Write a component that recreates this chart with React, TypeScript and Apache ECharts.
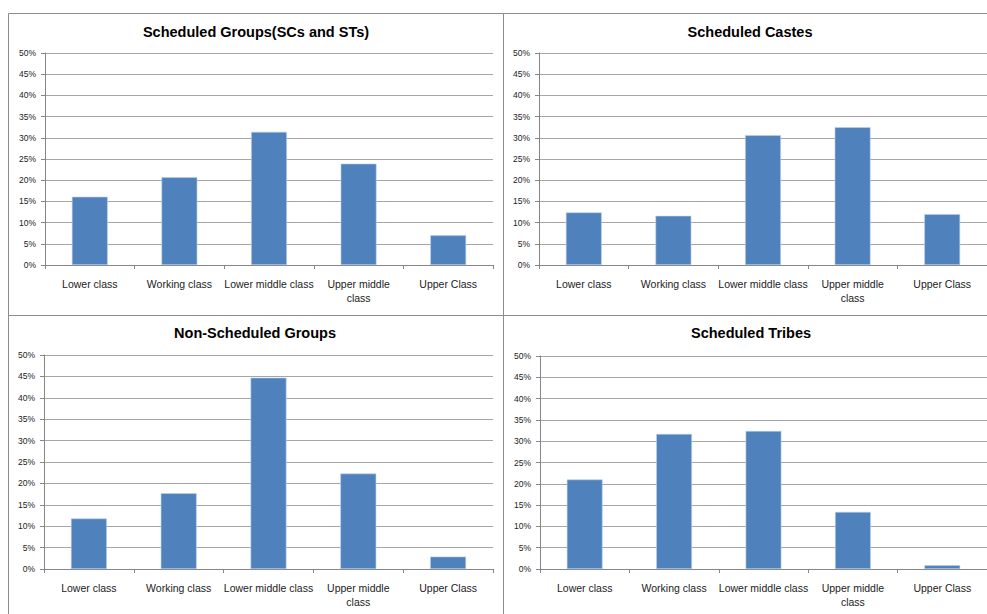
import React, { useEffect, useRef } from "react";
import * as echarts from "echarts";

const categories = ["Lower class", "Working class", "Lower middle class", "Upper middle class", "Upper Class"];
const titles = ["Scheduled Groups(SCs and STs)", "Scheduled Castes", "Non-Scheduled Groups", "Scheduled Tribes"];
const scheduledGroups = [16.1, 20.7, 31.4, 23.9, 7.0];
const scheduledCastes = [12.4, 11.6, 30.6, 32.5, 12.0];
const nonScheduledGroups = [11.8, 17.7, 44.7, 22.3, 2.9];
const scheduledTribes = [21.0, 31.7, 32.4, 13.4, 0.9];
const yTicks = { min: 0, max: 50, interval: 5 };

const seriesData = [scheduledGroups, scheduledCastes, nonScheduledGroups, scheduledTribes];

const grids = [
  { left: 45, top: 53, width: 448, height: 212 },
  { left: 539, top: 53, width: 448, height: 212 },
  { left: 44, top: 355, width: 449, height: 214 },
  { left: 540, top: 356, width: 447, height: 213 },
];
const titlePos = [
  { x: 256, y: 32 },
  { x: 750, y: 32 },
  { x: 255, y: 333 },
  { x: 751, y: 333 },
];

export default function App() {
  const ref = useRef<HTMLDivElement>(null);
  useEffect(() => {
    if (!ref.current) return;
    const chart = echarts.init(ref.current, undefined, { renderer: "svg" });
    const font = "'Liberation Sans', Arial, sans-serif";
    const option: any = {
      animation: false,
      backgroundColor: "#ffffff",
      grid: grids.map((g) => ({ ...g, containLabel: false })),
      xAxis: grids.map((_, i) => ({
        type: "category",
        gridIndex: i,
        data: categories,
        axisLine: { lineStyle: { color: "#868686", width: 1 } },
        axisTick: { show: true, length: 4, lineStyle: { color: "#868686" } },
        axisLabel: {
          fontFamily: font,
          fontSize: 10.5,
          color: "#222",
          margin: 12,
          lineHeight: 14,
          interval: 0,
          formatter: (v: string) => (v === "Upper middle class" ? "Upper middle\nclass" : v),
        },
        splitLine: { show: false },
      })),
      yAxis: grids.map((_, i) => ({
        type: "value",
        gridIndex: i,
        min: yTicks.min,
        max: yTicks.max,
        interval: yTicks.interval,
        axisLine: { show: true, lineStyle: { color: "#868686", width: 1 } },
        axisTick: { show: true, length: 4, lineStyle: { color: "#868686" } },
        axisLabel: {
          fontFamily: font,
          fontSize: 8.5,
          color: "#222",
          margin: 9,
          formatter: (v: number) => v + "%",
        },
        splitLine: { show: true, lineStyle: { color: "#a6a6a6", width: 1 } },
      })),
      series: seriesData.map((d, i) => ({
        type: "bar",
        xAxisIndex: i,
        yAxisIndex: i,
        data: d,
        barWidth: "40%",
        itemStyle: { color: "#4f81bd", borderColor: "#bcd0e8", borderWidth: 0.6 },
      })),
      graphic: [
        { type: "rect", shape: { x: 8.5, y: 13.5, width: 495, height: 302 }, style: { fill: "none", stroke: "#8c8c8c", lineWidth: 1 }, silent: true },
        { type: "rect", shape: { x: 503.5, y: 13.5, width: 500, height: 302 }, style: { fill: "none", stroke: "#8c8c8c", lineWidth: 1 }, silent: true },
        { type: "rect", shape: { x: 8.5, y: 315.5, width: 495, height: 320 }, style: { fill: "none", stroke: "#8c8c8c", lineWidth: 1 }, silent: true },
        { type: "rect", shape: { x: 503.5, y: 315.5, width: 500, height: 320 }, style: { fill: "none", stroke: "#8c8c8c", lineWidth: 1 }, silent: true },
        ...titles.map((t, i) => ({
          type: "text",
          x: titlePos[i].x,
          y: titlePos[i].y,
          silent: true,
          style: {
            text: t,
            fontFamily: font,
            fontSize: 14.5,
            fontWeight: "bold",
            fill: "#000",
            align: "center",
            verticalAlign: "middle",
          },
        })),
      ],
    };
    chart.setOption(option);
    return () => chart.dispose();
  }, []);
  return (
    <div
      ref={ref}
      style={{ position: "absolute", left: 0, top: 0, width: 987, height: 614 }}
    />
  );
}
